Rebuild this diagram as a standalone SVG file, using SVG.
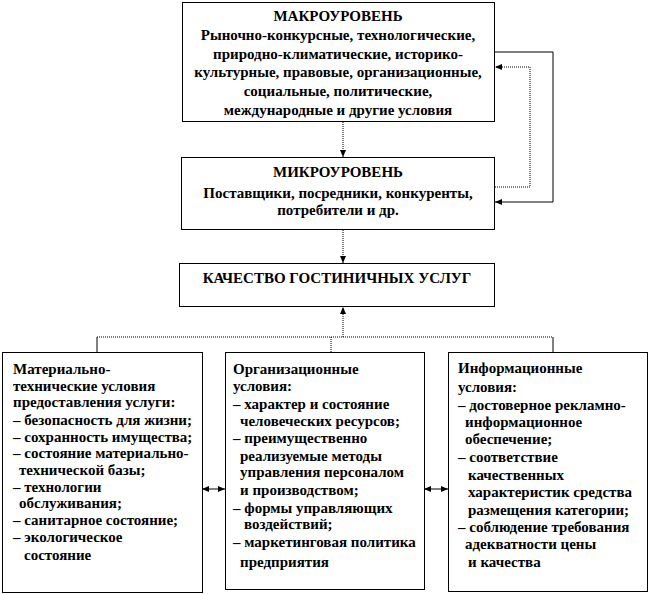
<svg xmlns="http://www.w3.org/2000/svg" width="650" height="594" viewBox="0 0 650 594">
<defs>
<marker id="ah" markerWidth="8" markerHeight="8" refX="7" refY="4" orient="auto" markerUnits="userSpaceOnUse">
<path d="M0,1 L7,4 L0,7 Z" fill="#000"/>
</marker>
<marker id="ahs" markerWidth="8" markerHeight="8" refX="1" refY="4" orient="auto" markerUnits="userSpaceOnUse">
<path d="M7,1 L0,4 L7,7 Z" fill="#000"/>
</marker>
</defs>
<rect width="650" height="594" fill="#fff"/>
<g id="connectors" fill="none" stroke="#000" stroke-width="1">
<line stroke-dasharray="1 1" x1="343" y1="122" x2="343" y2="157" marker-end="url(#ah)"/>
<line stroke-dasharray="1 1" x1="343" y1="230" x2="343" y2="263" marker-end="url(#ah)"/>
<line stroke-dasharray="1 1" x1="343" y1="337" x2="343" y2="307" marker-end="url(#ah)"/>
<polyline points="495,52 553,52 553,202 495,202" marker-end="url(#ah)"/>
<polyline stroke-dasharray="1 1" points="495,187 530,187 530,67 495,67" marker-end="url(#ah)"/>
<line stroke-dasharray="1 1" x1="97" y1="337" x2="553" y2="337"/>
<line x1="97" y1="337" x2="97" y2="352"/>
<line stroke-dasharray="1 1" x1="331" y1="337" x2="331" y2="352"/>
<line x1="553" y1="337" x2="553" y2="352"/>
<line x1="203" y1="489" x2="225" y2="489" marker-start="url(#ahs)" marker-end="url(#ah)"/>
<line x1="425" y1="489" x2="448" y2="489" marker-start="url(#ahs)" marker-end="url(#ah)"/>
</g>
<g id="macro" font-family="Liberation Serif" font-weight="bold" font-size="15" text-anchor="middle" fill="#000">
<rect fill="#fff" stroke="#000" x="182.5" y="2.5" width="312" height="119"/>
<text x="338" y="21">МАКРОУРОВЕНЬ</text>
<text x="338" y="40">Рыночно-конкурсные, технологические,</text>
<text x="338" y="59">природно-климатические, историко-</text>
<text x="338" y="77">культурные,  правовые, организационные,</text>
<text x="338" y="96">социальные, политические,</text>
<text x="338" y="115">международные и другие условия</text>
</g>
<g id="micro" font-family="Liberation Serif" font-weight="bold" font-size="15" text-anchor="middle" fill="#000">
<rect fill="#fff" stroke="#000" x="181.5" y="157.5" width="313" height="72"/>
<text x="338" y="177">МИКРОУРОВЕНЬ</text>
<text x="338" y="198">Поставщики, посредники, конкуренты,</text>
<text x="338" y="215">потребители и др.</text>
</g>
<g id="quality" font-family="Liberation Serif" font-weight="bold" font-size="15" text-anchor="middle" fill="#000">
<rect fill="#fff" stroke="#000" x="179.5" y="263.5" width="315" height="43"/>
<text x="337" y="283">КАЧЕСТВО ГОСТИНИЧНЫХ  УСЛУГ</text>
</g>
<g id="material" font-family="Liberation Serif" font-weight="bold" font-size="15" fill="#000">
<rect fill="#fff" stroke="#000" x="2.5" y="352.5" width="200" height="240"/>
<text x="13" y="374">Материально-</text>
<text x="13" y="391">технические условия</text>
<text x="13" y="407">предоставления услуги:</text>
<text x="13" y="425">– безопасность для жизни;</text>
<text x="13" y="442">– сохранность имущества;</text>
<text x="13" y="458">– состояние материально-</text>
<text x="19" y="475">технической базы;</text>
<text x="13" y="492">– технологии</text>
<text x="19" y="508">обслуживания;</text>
<text x="13" y="525">– санитарное состояние;</text>
<text x="13" y="542">– экологическое</text>
<text x="24" y="560">состояние</text>
</g>
<g id="organizational" font-family="Liberation Serif" font-weight="bold" font-size="15" fill="#000">
<rect fill="#fff" stroke="#000" x="225.5" y="352.5" width="199" height="237"/>
<text x="233" y="374">Организационные</text>
<text x="233" y="391">условия:</text>
<text x="233" y="409">– характер и состояние</text>
<text x="240" y="426">человеческих ресурсов;</text>
<text x="233" y="443">– преимущественно</text>
<text x="240" y="461">реализуемые методы</text>
<text x="240" y="477">управления персоналом</text>
<text x="240" y="495">и производством;</text>
<text x="233" y="513">– формы управляющих</text>
<text x="244" y="529">воздействий;</text>
<text x="233" y="547">– маркетинговая политика</text>
<text x="240" y="567">предприятия</text>
</g>
<g id="informational" font-family="Liberation Serif" font-weight="bold" font-size="15" fill="#000">
<rect fill="#fff" stroke="#000" x="448.5" y="352.5" width="199" height="239"/>
<text x="458" y="373">Информационные</text>
<text x="458" y="392">условия:</text>
<text x="458" y="410">– достоверное рекламно-</text>
<text x="465" y="427">информационное</text>
<text x="465" y="444">обеспечение;</text>
<text x="458" y="462">– соответствие</text>
<text x="468" y="480">качественных</text>
<text x="468" y="497">характеристик средства</text>
<text x="468" y="515">размещения категории;</text>
<text x="458" y="532">– соблюдение требования</text>
<text x="465" y="549">адекватности цены</text>
<text x="468" y="567">и качества</text>
</g>
</svg>
